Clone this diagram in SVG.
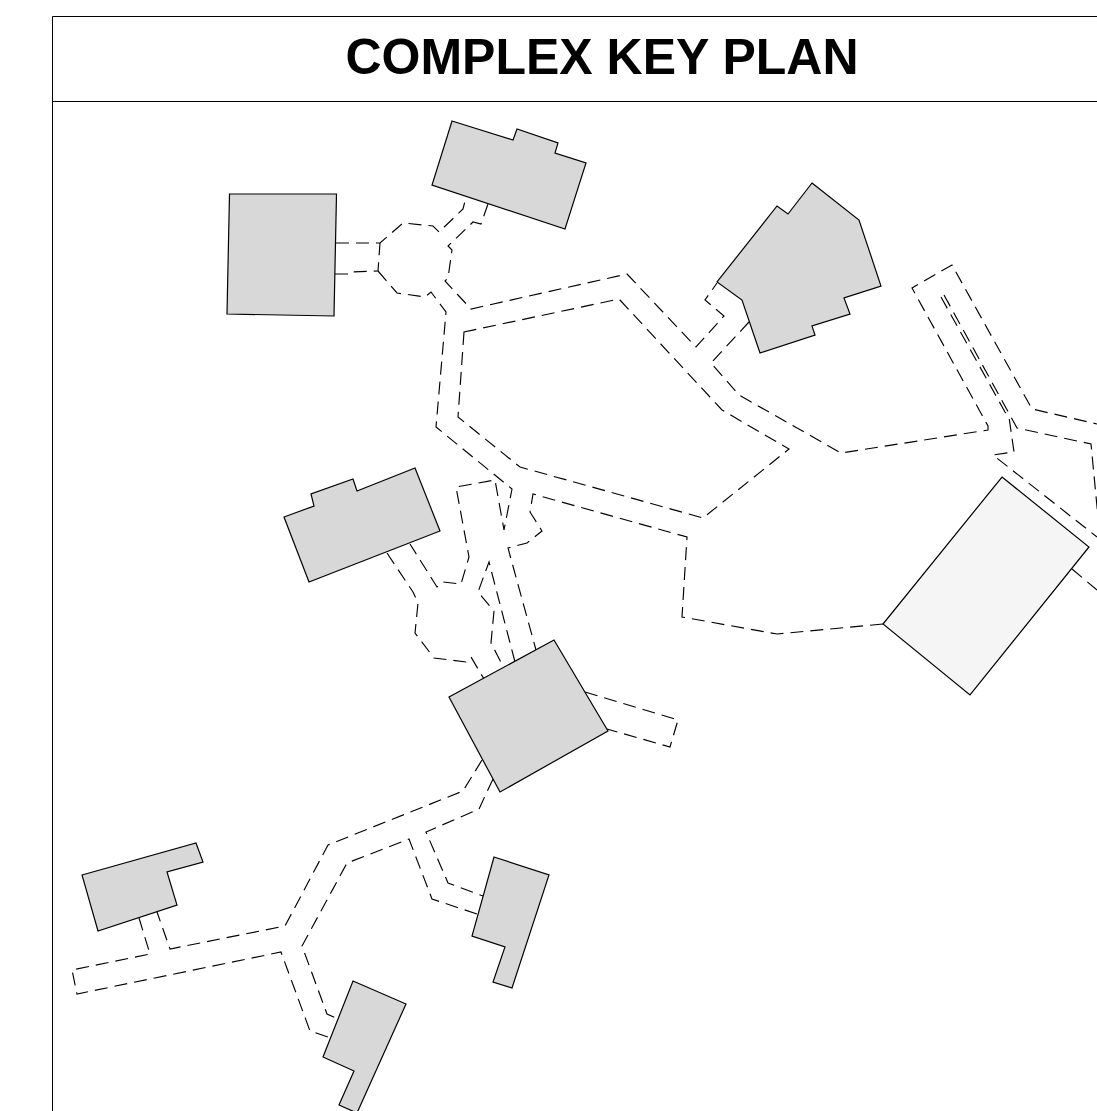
<svg xmlns="http://www.w3.org/2000/svg" width="1097" height="1111" viewBox="0 0 1097 1111">
<style>
.frame{fill:none;stroke:#000;stroke-width:1}
.b{fill:#d8d8d8;stroke:#000;stroke-width:1.2}
.l{fill:#f5f5f5;stroke:#000;stroke-width:1.2}
.w{fill:none;stroke:#000;stroke-width:1.15;stroke-dasharray:13 7;stroke-linejoin:miter}
.t{font-family:"Liberation Sans",Arial,sans-serif;font-weight:700;font-size:50px;text-anchor:middle;fill:#000}
</style>
<rect width="1097" height="1111" fill="#fff"/>
<g id="frame">
<path class="frame" d="M52.5 1111V16.500H1097M52.500 101.500H1097"/>
<text class="t" x="602" y="74">COMPLEX KEY PLAN</text>
</g>
<g id="connectors">
<path class="w" d="M336 243H380L403 223L433 226L439 232L463 209L466 197"/>
<path class="w" d="M335 274H348L349 272L378 271L380 243"/>
<path class="w" d="M378 271L397 293L425 297L431 292L446 312L436 427L512 489L504 530L495 480L456 487L469 557L461 584L443 582L437 587L410 544"/>
<path class="w" d="M488 204L481 224L473 222L448 246L452 250L448 278L445 281L471 309L627 274L696 347L724 316L705 300L717 283"/>
<path class="w" d="M749 322L711 363L739 395L841 453L988 430L988 426L912 288L952 265L1032 409L1097 424"/>
<path class="w" d="M941 297L1005 412L1009 417L1014 452L993 455L1097 537"/>
<path class="w" d="M944 295L1017 428L1091 444L1098 517"/>
<path class="w" d="M1072 569L1097 590"/>
<path class="w" d="M464 332L458 417L520 467L703 518L789 449L722 410L619 299Z"/>
<path class="w" d="M883 624L777 634L682 617L687 537L533 494L530 512L542 531L527 543L508 548L536 650"/>
<path class="w" d="M515 662L489 562L478 592L494 611L491 643L504 668"/>
<path class="w" d="M387 553L413 592L418 603L415 633L434 658L466 662L471 657L484 679"/>
<path class="w" d="M585 692L678 720L670 747L607 729"/>
<path class="w" d="M482 760L463 791L328 845L285 926L170 949L157 912"/>
<path class="w" d="M139 918L150 954L72 970L77 994L281 952L310 1031L331 1038"/>
<path class="w" d="M493 779L479 809L426 832L448 883L483 896"/>
<path class="w" d="M477 914L432 899L409 839L347 863L302 946L327 1014L338 1019"/>
</g>
<g id="building-1"><polygon class="b" points="229.500,194 336.500,194 334,316 227,314"/></g>
<g id="building-2"><polygon class="b" points="452,121 513,140 517,129 558,143 555,153 586,163 565,229 432,185"/></g>
<g id="building-3"><polygon class="b" points="812,183 859,220 881,286 844,298 850,314 812,326 815,335 760,353 742,300 717,282 777,206 788,214"/></g>
<g id="building-4"><polygon class="l" points="1002,477 1089,547 970,695 883,624"/></g>
<g id="building-5"><polygon class="b" points="415,468 440,531 309,582 284,517 314,506 311,494 353,479 357,491"/></g>
<g id="building-6"><polygon class="b" points="554,640 608,731 500,792 449,697"/></g>
<g id="building-7"><polygon class="b" points="82,875 196,843 203,862 167,872 177,905 98,931"/></g>
<g id="building-8"><polygon class="b" points="494,857 549,875 512,988 493,982 505,947 472,936"/></g>
<g id="building-9"><polygon class="b" points="353,981 406,1004 357,1113 339,1105 354,1071 323,1057"/></g>
</svg>
